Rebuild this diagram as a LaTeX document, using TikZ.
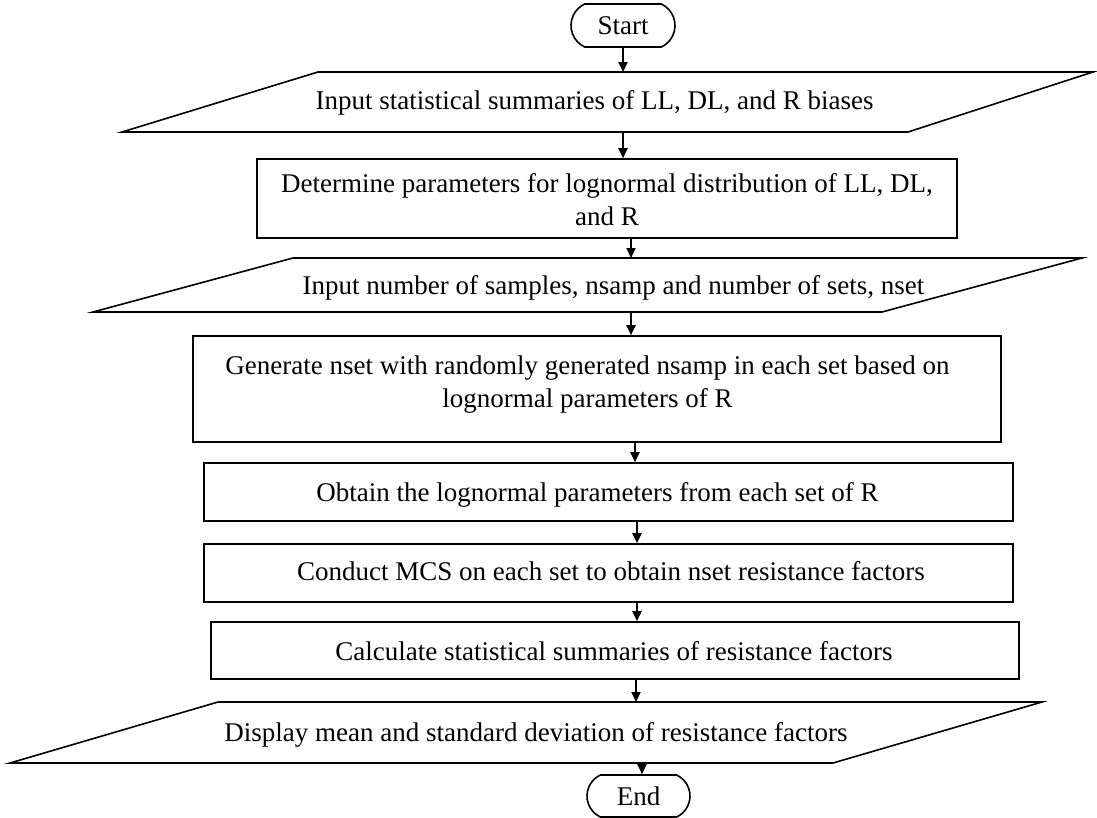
\documentclass[tikz,border=0pt]{standalone}
\usepackage{fontspec}
\setmainfont{Liberation Serif}
\usetikzlibrary{arrows.meta,shapes.misc}
\newcommand{\flowfont}{\fontsize{27}{32.4}\selectfont}
\begin{document}
\begin{tikzpicture}[x=1pt,y=-1pt,
  outline/.style={draw=black,line width=1.6pt,line join=miter},
  terminal/.style={outline,rounded rectangle,rounded rectangle arc length=130,
    inner sep=0pt,font=\flowfont},
  procbox/.style={outline,rectangle,inner sep=0pt},
  lbl/.style={inner sep=0pt,anchor=base,font=\flowfont,align=center},
  arr/.style={line width=2pt,-{Triangle[length=10pt,width=9pt]}}]
\useasboundingbox (0,0) rectangle (1097,817);

% terminals
\node[terminal,minimum width=104pt,minimum height=43pt] (start) at (623,25.5) {Start};
\node[terminal,minimum width=103pt,minimum height=42pt] (end) at (638.5,796) {End};

% input / output parallelograms
\coordinate (p1bl) at (122,132);  \coordinate (p1tl) at (318,72);
\coordinate (p1tr) at (1093,72);  \coordinate (p1br) at (908,132);
\draw[outline] (p1bl) -- (p1tl) -- (p1tr) -- (p1br) -- cycle;
\node[lbl] (t1) at (594.5,109) {Input statistical summaries of LL, DL, and R biases};

\coordinate (p2bl) at (93,312);   \coordinate (p2tl) at (293,258);
\coordinate (p2tr) at (1082,258); \coordinate (p2br) at (882,312);
\draw[outline] (p2bl) -- (p2tl) -- (p2tr) -- (p2br) -- cycle;
\node[lbl] (t3) at (613.5,294) {Input number of samples, nsamp and number of sets, nset};

\coordinate (p3bl) at (10,763);   \coordinate (p3tl) at (218,702);
\coordinate (p3tr) at (1042,702); \coordinate (p3br) at (833,763);
\draw[outline] (p3bl) -- (p3tl) -- (p3tr) -- (p3br) -- cycle;
\node[lbl] (t8) at (536,741.5) {Display mean and standard deviation of resistance factors};

% process boxes (two-line labels sit on the baseline of their last line)
\node[procbox,minimum width=700pt,minimum height=79pt] (b2) at (607,198.5) {};
\node[lbl] (t2) at (607,225) {Determine parameters for lognormal distribution of LL, DL,\\and R};

\node[procbox,minimum width=808pt,minimum height=106pt] (b3) at (597,389) {};
\node[lbl] (t4) at (587.5,407) {Generate nset with randomly generated nsamp in each set based on\\lognormal parameters of R};

\node[procbox,minimum width=809pt,minimum height=58pt] (b4) at (608.5,492) {};
\node[lbl] (t5) at (597.5,501) {Obtain the lognormal parameters from each set of R};

\node[procbox,minimum width=809pt,minimum height=58pt] (b5) at (608.5,573) {};
\node[lbl] (t6) at (611,580) {Conduct MCS on each set to obtain nset resistance factors};

\node[procbox,minimum width=808pt,minimum height=57pt] (b6) at (615,650.5) {};
\node[lbl] (t7) at (614,660) {Calculate statistical summaries of resistance factors};

% connection points on the slanted shapes
\coordinate (p1in) at (623,72);   \coordinate (p1out) at (623,132);
\coordinate (p2in) at (631,258);  \coordinate (p2out) at (631,312);
\coordinate (p3in) at (636,702);  \coordinate (p3out) at (642,763);

% flow
\draw[arr] (start.south) -- (p1in);
\draw[arr] (p1out) -- (p1out |- b2.north);
\draw[arr] (b2.south -| p2in) -- (p2in);
\draw[arr] (p2out) -- (p2out |- b3.north);
\draw[arr] ([xshift=38pt]b3.south) -- ([xshift=38pt]b3.south |- b4.north);
\draw[arr] ([xshift=28.5pt]b4.south) -- ([xshift=28.5pt]b4.south |- b5.north);
\draw[arr] ([xshift=28.5pt]b5.south) -- ([xshift=28.5pt]b5.south |- b6.north);
\draw[arr] (b6.south -| p3in) -- (p3in);
\draw[arr] (p3out) -- (p3out |- end.north);
\end{tikzpicture}
\end{document}
